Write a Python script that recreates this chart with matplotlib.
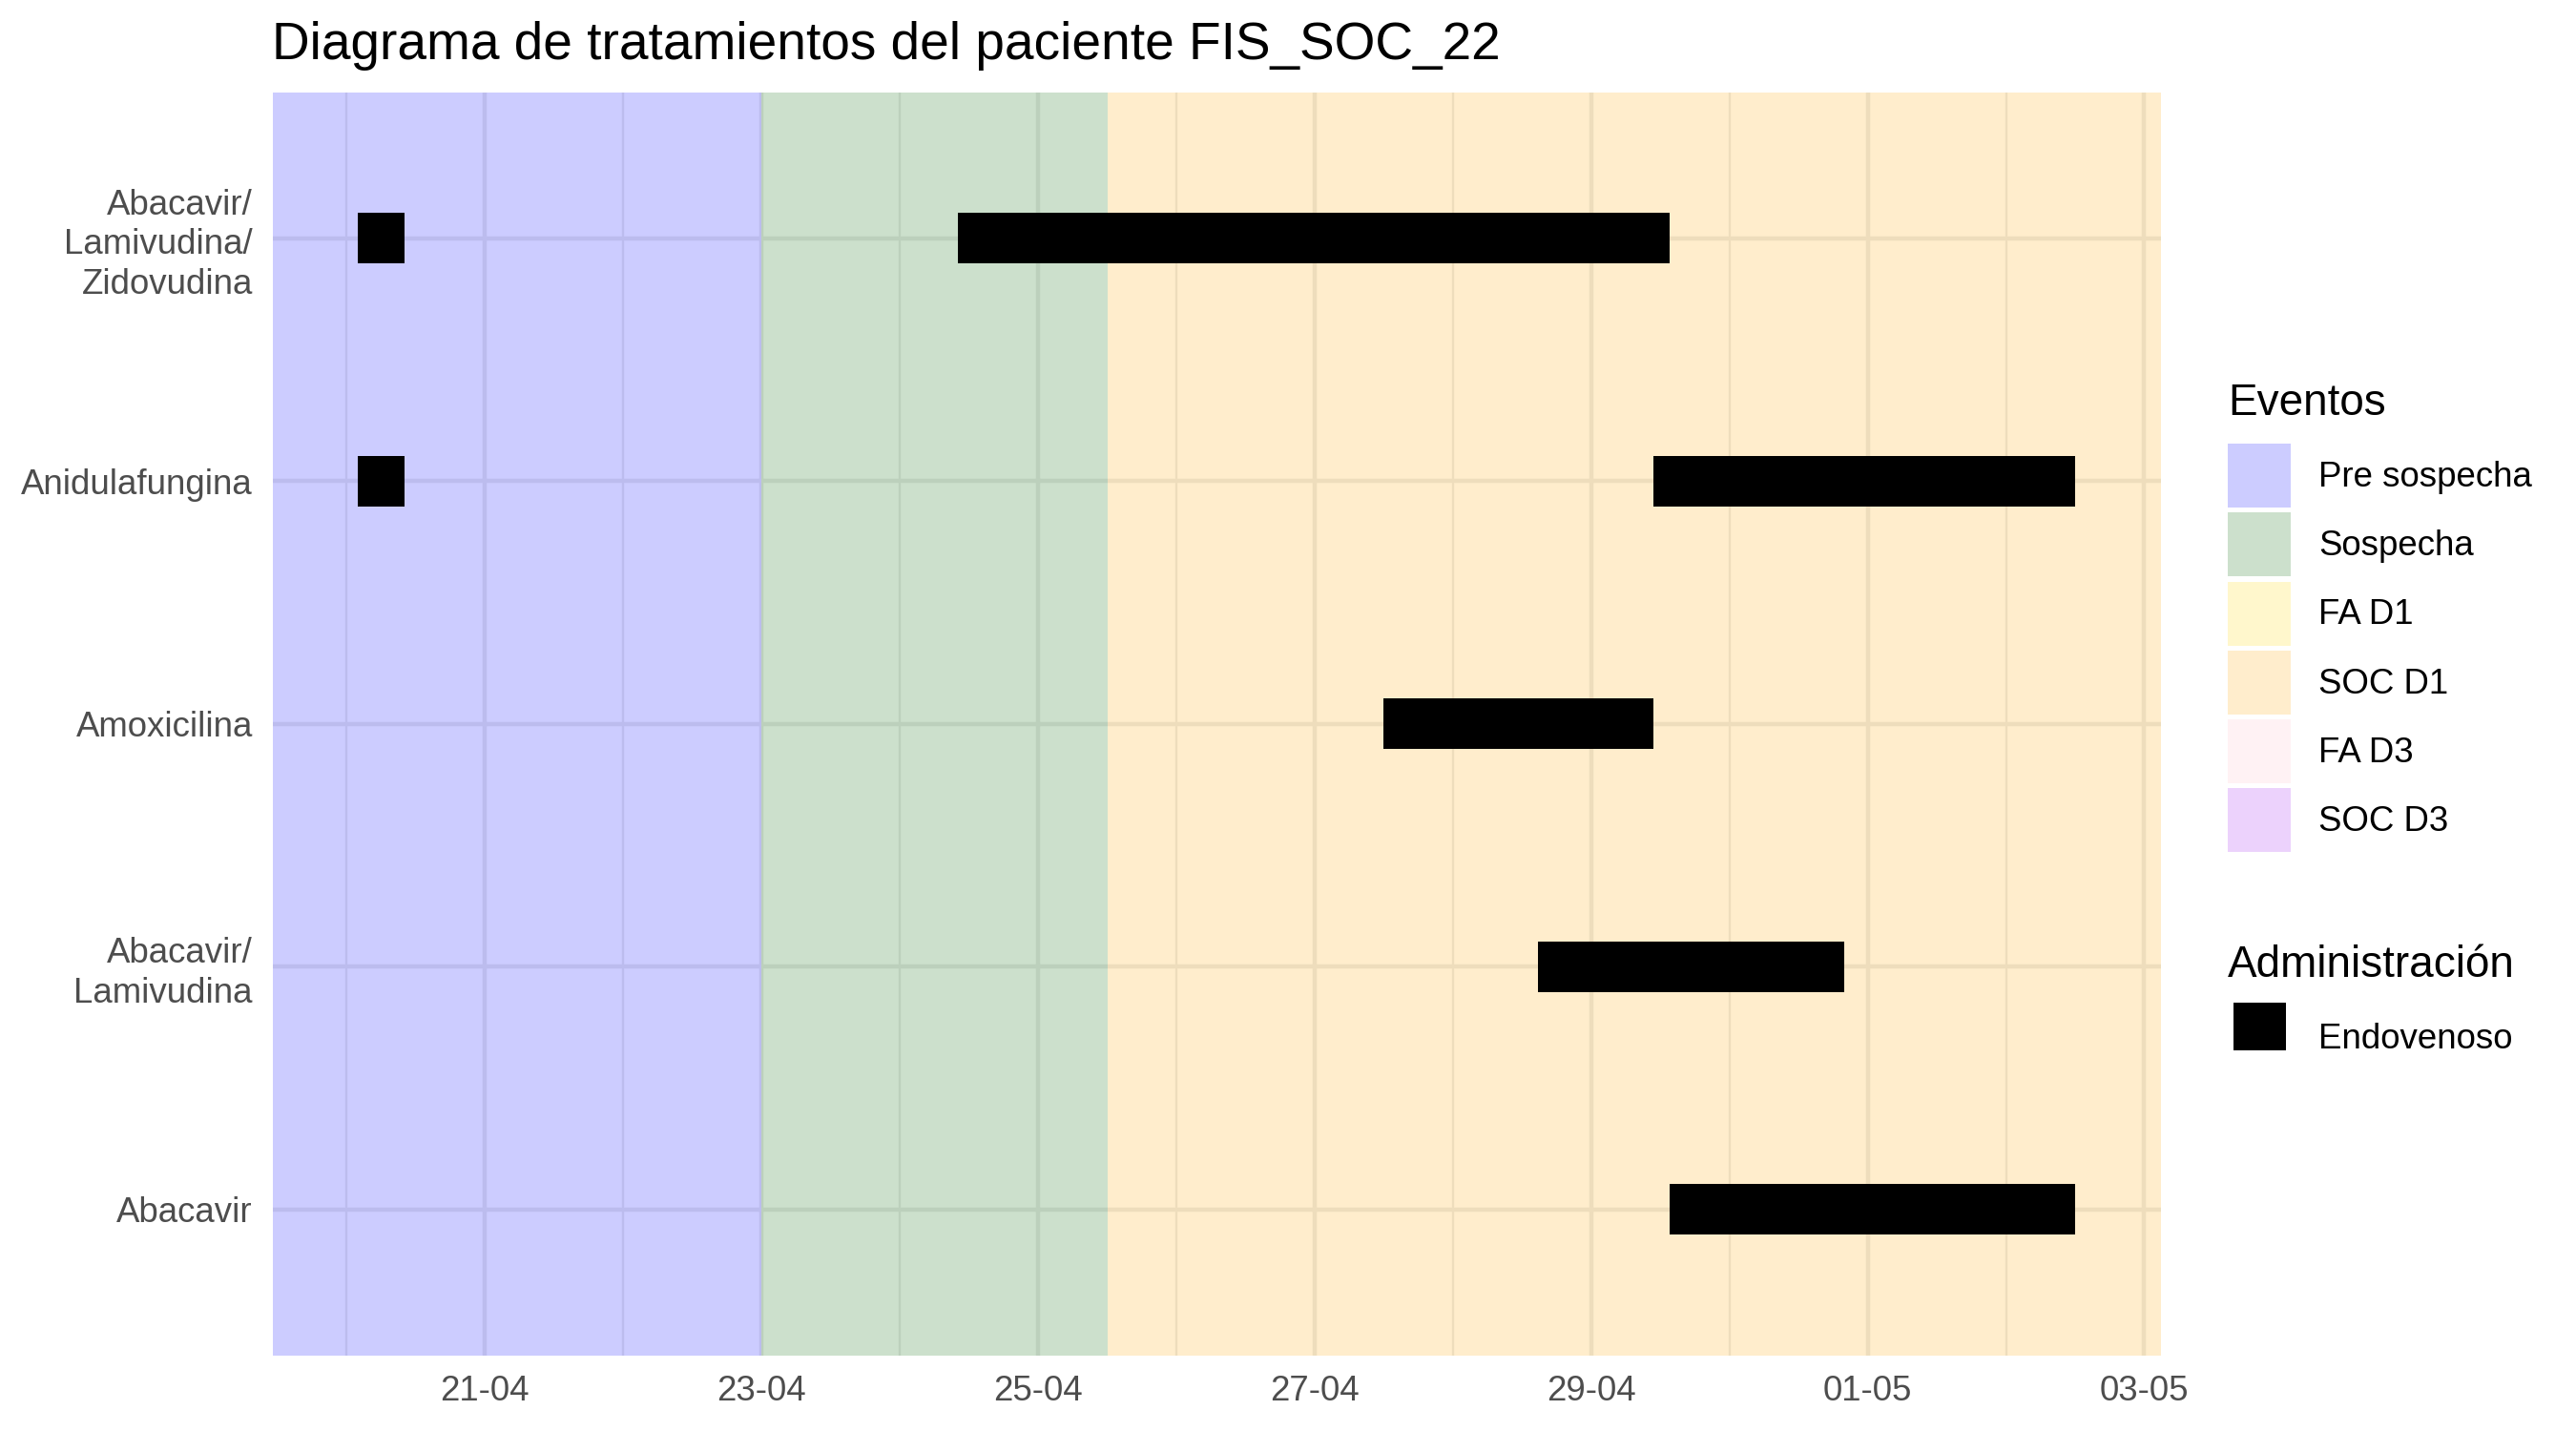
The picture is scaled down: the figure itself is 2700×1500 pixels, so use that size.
import numpy as np
import pandas as pd
import matplotlib
matplotlib.use('Agg')
import matplotlib.pyplot as plt
import matplotlib.dates as mdates
from matplotlib.patches import Patch
from matplotlib.lines import Line2D
from matplotlib.legend_handler import HandlerLine2D

plt.rcParams['font.family'] = ['Liberation Sans', 'DejaVu Sans']

# y categories, bottom to top
drugs = ['Abacavir', 'Abacavir/\nLamivudina', 'Amoxicilina', 'Anidulafungina',
         'Abacavir/\nLamivudina/\nZidovudina']

# treatment periods
trat_drug = ['Abacavir/\nLamivudina/\nZidovudina', 'Abacavir/\nLamivudina/\nZidovudina',
             'Anidulafungina', 'Anidulafungina', 'Amoxicilina',
             'Abacavir/\nLamivudina', 'Abacavir']
trat_start = ['2022-04-20 02:00', '2022-04-24 10:00', '2022-04-20 02:00', '2022-04-29 10:45',
              '2022-04-27 12:00', '2022-04-28 14:50', '2022-04-29 13:40']
trat_end = ['2022-04-20 10:00', '2022-04-29 13:40', '2022-04-20 10:00', '2022-05-02 12:00',
            '2022-04-29 10:45', '2022-04-30 20:00', '2022-05-02 12:00']

event_names = ['Pre sospecha', 'Sospecha', 'FA D1', 'SOC D1', 'FA D3', 'SOC D3']
event_colors = ['#0000FF', '#006400', '#FFD700', '#FFA500', '#FFC0CB', '#A020F0']

# phases drawn in the background (None = edge of the panel)
phase_names = ['Pre sospecha', 'Sospecha', 'SOC D1']
phase_start = [None, '2022-04-23 00:00', '2022-04-25 12:00']
phase_end = ['2022-04-23 00:00', '2022-04-25 12:00', None]

start = mdates.date2num(pd.to_datetime(trat_start))
end = mdates.date2num(pd.to_datetime(trat_end))
ypos = np.array([drugs.index(d) + 1 for d in trat_drug])

# ggplot-like 5% expansion
span = end.max() - start.min()
xlo = start.min() - 0.05 * span
xhi = end.max() + 0.05 * span

fig = plt.figure(figsize=(9, 5))
ax = fig.add_axes([285.5 / 2700, 1 - 1420.5 / 1500, (2265 - 285.5) / 2700, (1420.5 - 97) / 1500])

ax.set_axisbelow(True)
for name, s, e in zip(phase_names, phase_start, phase_end):
    s = xlo if s is None else mdates.date2num(pd.Timestamp(s))
    e = xhi if e is None else mdates.date2num(pd.Timestamp(e))
    c = event_colors[event_names.index(name)]
    ax.axvspan(s, e, color=c, alpha=0.2, lw=0, zorder=1)

ax.barh(ypos, end - start, left=start, height=0.207, color='black', zorder=2)

ax.set_xlim(xlo, xhi)
ax.set_ylim(0.4, len(drugs) + 0.6)
ax.set_yticks(np.arange(1, len(drugs) + 1))
ax.set_yticklabels(drugs, linespacing=1.24)

major = pd.date_range('2022-04-21', '2022-05-03', freq='2D')
minor = pd.date_range('2022-04-20', '2022-05-02', freq='2D')
ax.set_xticks(mdates.date2num(major))
ax.set_xticks(mdates.date2num(minor), minor=True)
ax.xaxis.set_major_formatter(mdates.DateFormatter('%d-%m'))

ax.grid(which='major', color='#EBEBEB', lw=1.06)
ax.grid(which='minor', axis='x', color='#EBEBEB', lw=0.53)
for sp in ax.spines.values():
    sp.set_visible(False)
ax.tick_params(which='both', length=0, pad=4.95, labelsize=8.8, labelcolor='#4D4D4D')

fig.text(285 / 2700, 1 - 62 / 1500, 'Diagrama de tratamientos del paciente FIS_SOC_22',
         fontsize=13.2, ha='left', va='baseline')

legend_kw = dict(loc='upper left', frameon=False, fontsize=8.8, title_fontsize=11,
                 handlelength=1.8, handleheight=2.44, labelspacing=0.14,
                 handletextpad=0.79, borderpad=0, borderaxespad=0, alignment='left')

h1 = [Patch(facecolor=c, alpha=0.2, edgecolor='none') for c in event_colors]
leg1 = fig.legend(h1, event_names, title='Eventos',
                  bbox_to_anchor=(2335 / 2700, 1 - 401 / 1500), **legend_kw)
leg1._legend_box.sep = 4.8

h2 = [Line2D([], [], color='black', lw=12, solid_capstyle='butt')]
leg2 = fig.legend(h2, ['Endovenoso'], title='Administración',
                  bbox_to_anchor=(2335 / 2700, 1 - 990 / 1500),
                  handler_map={Line2D: HandlerLine2D(numpoints=2, marker_pad=0.15)},
                  **legend_kw)
leg2._legend_box.sep = 4.8

fig.savefig('out.png', dpi=300)
